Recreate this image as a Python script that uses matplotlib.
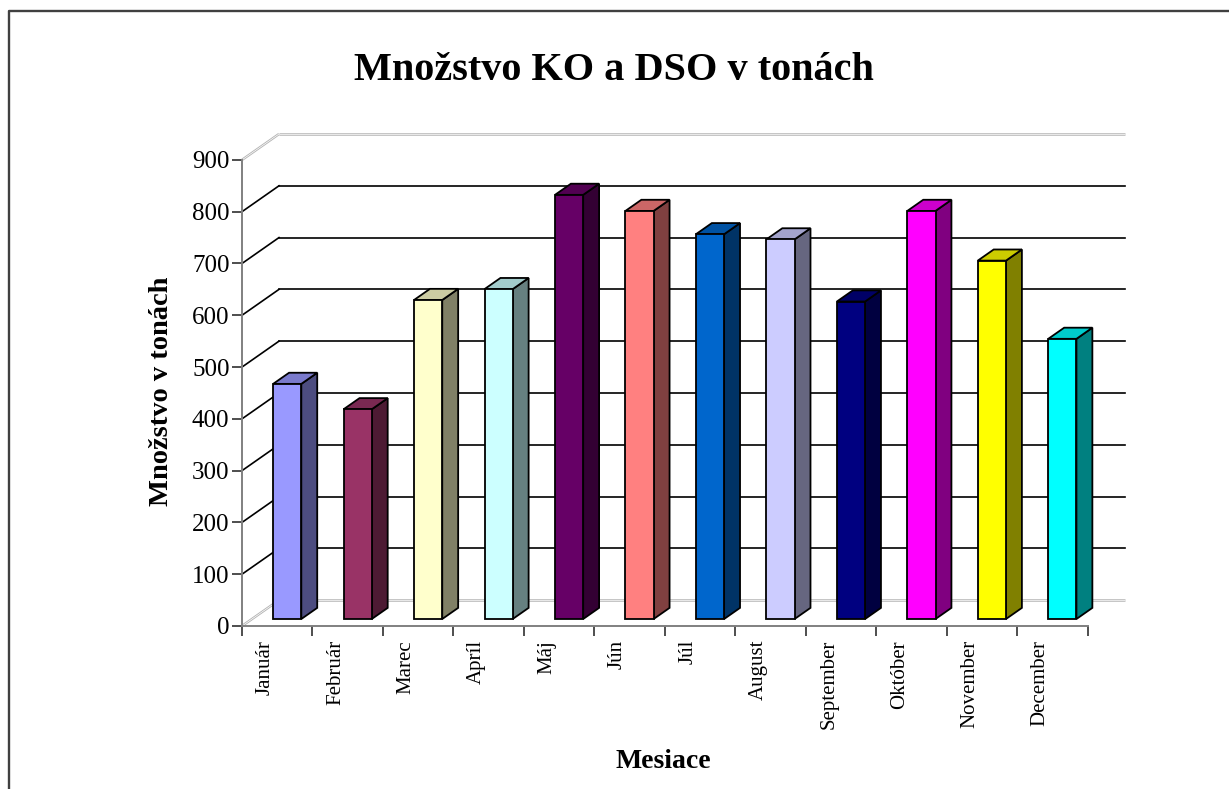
import numpy as np
import matplotlib.pyplot as plt
from matplotlib.patches import Polygon
from matplotlib.lines import Line2D
from matplotlib.transforms import ScaledTranslation
from matplotlib.colors import to_rgb

# data
months = ['Január', 'Február', 'Marec', 'Apríl', 'Máj', 'Jún',
          'Júl', 'August', 'September', 'Október', 'November', 'December']
values = [454, 405, 616, 637, 819, 788, 743, 733, 613, 788, 692, 541]
colors = ['#9999FF', '#993366', '#FFFFCC', '#CCFFFF', '#660066', '#FF8080',
          '#0066CC', '#CCCCFF', '#000080', '#FF00FF', '#FFFF00', '#00FFFF']
yticks = list(range(0, 901, 100))

title = 'Množstvo KO a DSO v tonách'
ylabel = 'Množstvo v tonách'
xlabel = 'Mesiace'

serif = 'Liberation Serif'

# fake 3d: shift of the back wall in data units
DX = 0.525
DY = 50.0
Z0, Z1 = 0.27, 0.70   # depth of bar front / back
BW = 0.4              # bar width (fraction of category)


def proj(x, v, z):
    return (x + z * DX, v + z * DY)


def shade(c, k):
    r, g, b = to_rgb(c)
    return (r * k, g * k, b * k)


fig = plt.figure(figsize=(12.29, 7.89), dpi=100)
W, H = 1229, 789
ax = fig.add_axes([242 / W, (H - 626) / H, 882.6 / W, 492 / H])
ax.set_xlim(0, 12 + DX)
ax.set_ylim(0, 900 + DY)
ax.patch.set_visible(False)


def wall_edge(xs, ys):
    # light double line like the excel wall edges
    ax.plot(xs, ys, color='#B4B4B4', lw=1.8, zorder=1, solid_capstyle='butt', clip_on=False)
    ax.plot(xs, ys, color='white', lw=0.5, zorder=1.1, solid_capstyle='butt', clip_on=False)


# gridlines on back wall and left wall
for v in yticks:
    if v in (0, 900):
        wall_edge([DX, 12 + DX], [v + DY, v + DY])
        wall_edge([0, DX], [v, v + DY])
    else:
        ax.plot([DX, 12 + DX], [v + DY, v + DY], color='black', lw=1.2, zorder=1, clip_on=False)
        ax.plot([0, DX], [v, v + DY], color='black', lw=1.2, zorder=1, clip_on=False)

# bars
for i, (v, c) in enumerate(zip(values, colors)):
    x0 = i + 0.5 - BW / 2
    x1 = i + 0.5 + BW / 2
    front = [proj(x0, 0, Z0), proj(x1, 0, Z0), proj(x1, v, Z0), proj(x0, v, Z0)]
    side = [proj(x1, 0, Z0), proj(x1, 0, Z1), proj(x1, v, Z1), proj(x1, v, Z0)]
    top = [proj(x0, v, Z0), proj(x1, v, Z0), proj(x1, v, Z1), proj(x0, v, Z1)]
    for pts, col in ((side, shade(c, 0.5)), (top, shade(c, 0.8)), (front, c)):
        ax.add_patch(Polygon(pts, closed=True, facecolor=col, edgecolor='black',
                             lw=1.3, joinstyle='miter', zorder=3, clip_on=False))

# axes lines
for s in ['top', 'right']:
    ax.spines[s].set_visible(False)
for s in ['left', 'bottom']:
    ax.spines[s].set_color('#808080')
    ax.spines[s].set_linewidth(1.4)
    ax.spines[s].set_zorder(2)
ax.spines['left'].set_bounds(0, 900)
ax.spines['bottom'].set_bounds(0, 12)

ax.set_yticks(yticks)
ax.set_yticklabels([str(t) for t in yticks], fontfamily=serif, fontsize=18)
ax.tick_params(axis='y', length=7, width=1.2, color='#303030', pad=2)

ax.set_xticks(range(13))
ax.set_xticklabels([''] * 13)
ax.tick_params(axis='x', which='major', length=7, width=1.2, color='#303030')
ax.set_xticks(np.arange(12) + 0.5, minor=True)
ax.set_xticklabels(months, minor=True, rotation=90, fontfamily=serif, fontsize=15)
ax.tick_params(axis='x', which='minor', length=0, pad=10)
shift = ScaledTranslation(-12 / 100, 0, fig.dpi_scale_trans)
for lab in ax.get_xticklabels(minor=True):
    lab.set_transform(lab.get_transform() + shift)

# texts
fig.text(613.5 / W, (H - 80) / H, title, ha='center', va='baseline',
         fontfamily=serif, fontsize=29, fontweight='bold')
fig.text(161 / W, (H - 391) / H, ylabel, ha='center', va='center', rotation=90,
         fontfamily=serif, fontsize=20.5, fontweight='bold')
fig.text(663 / W, (H - 768) / H, xlabel, ha='center', va='baseline',
         fontfamily=serif, fontsize=20, fontweight='bold')

# outer chart border (only left and top show in the picture)
fig.add_artist(Line2D([9 / W, 9 / W, 1.01], [-0.01, (H - 11) / H, (H - 11) / H],
                      color='#404040', lw=1.7, transform=fig.transFigure))

fig.savefig('out.png', dpi=100)
